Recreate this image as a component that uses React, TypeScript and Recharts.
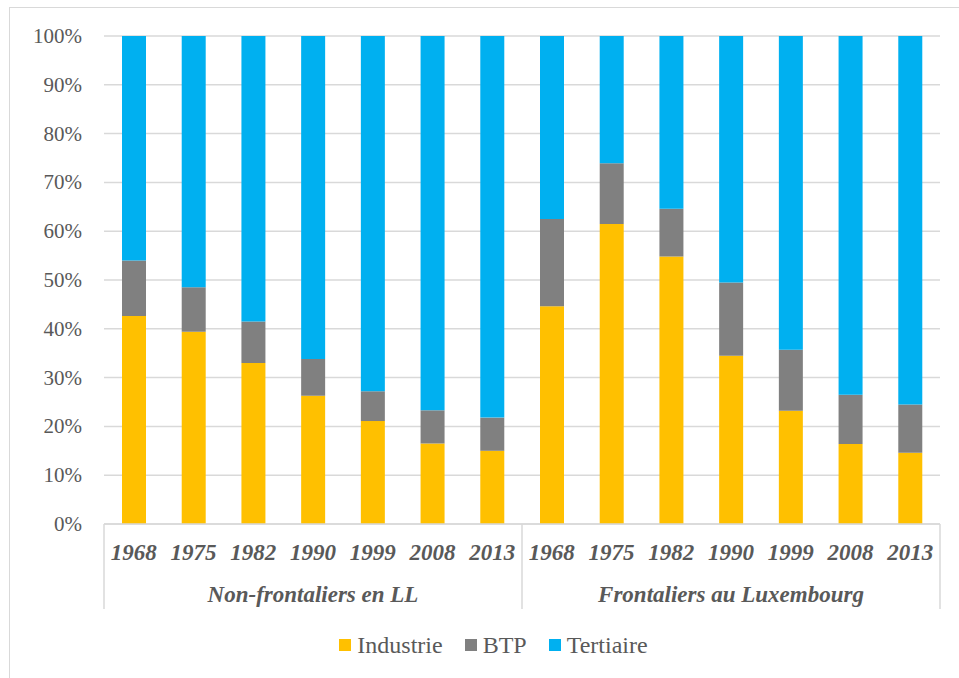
import { BarChart, Bar, XAxis, YAxis, CartesianGrid, Legend } from 'recharts';

const years = ['1968', '1975', '1982', '1990', '1999', '2008', '2013'];
const groups = ['Non-frontaliers en LL', 'Frontaliers au Luxembourg'];

// % par secteur
const industrieNonFront = [42.6, 39.4, 33.0, 26.3, 21.1, 16.5, 15.0];
const btpNonFront = [11.4, 9.1, 8.5, 7.5, 6.1, 6.8, 6.8];
const industrieFront = [44.6, 61.5, 54.8, 34.5, 23.2, 16.4, 14.6];
const btpFront = [17.9, 12.4, 9.8, 15.0, 12.5, 10.1, 9.9];

const yTicks = [0, 10, 20, 30, 40, 50, 60, 70, 80, 90, 100];

const series = [
    { key: 'industrie', name: 'Industrie', color: '#FFC000' },
    { key: 'btp', name: 'BTP', color: '#808080' },
    { key: 'tertiaire', name: 'Tertiaire', color: '#00B0F0' },
];

const build = (group: string, ind: number[], btp: number[]) =>
    years.map((year, i) => ({
        year,
        group,
        industrie: ind[i],
        btp: btp[i],
        tertiaire: +(100 - ind[i] - btp[i]).toFixed(1),
    }));

const data = [
    ...build(groups[0], industrieNonFront, btpNonFront),
    ...build(groups[1], industrieFront, btpFront),
];

const FONT = 'Liberation Serif, Times New Roman, serif';
const TEXT = '#595959';
const LINE = '#d9d9d9';

const YearTick = (props: any) => {
    const { x, y, payload } = props;
    return (
        <text x={x} y={y + 36} textAnchor="middle" fill={TEXT} fontFamily={FONT} fontSize={23} fontWeight="bold" fontStyle="italic">
            {payload.value}
        </text>
    );
};

const GroupTick = (props: any) => {
    const { x, y, payload, index, visibleTicksCount, width } = props;
    const half = payload.offset || width / 4;
    const last = index === visibleTicksCount - 1;
    return (
        <g>
            <line x1={x - half} x2={x - half} y1={y - 40} y2={y + 45} stroke={LINE} strokeWidth={1.5} />
            {last && <line x1={x + half} x2={x + half} y1={y - 40} y2={y + 45} stroke={LINE} strokeWidth={1.5} />}
            <text x={x} y={y + 38} textAnchor="middle" fill={TEXT} fontFamily={FONT} fontSize={23} fontWeight="bold" fontStyle="italic">
                {payload.value}
            </text>
        </g>
    );
};

const YTick = (props: any) => {
    const { x, y, payload } = props;
    return (
        <text x={x} y={y} dy={7} textAnchor="end" fill={TEXT} fontFamily={FONT} fontSize={21}>
            {payload.value}%
        </text>
    );
};

const LegendContent = () => (
    <div style={{ height: 60, paddingTop: 22, paddingLeft: 47, boxSizing: 'border-box', display: 'flex', justifyContent: 'center', gap: 22 }}>
        {series.map((s) => (
            <div key={s.key} style={{ display: 'flex', alignItems: 'center', height: 28 }}>
                <span style={{ width: 12, height: 12, background: s.color, display: 'inline-block', marginRight: 6 }} />
                <span style={{ fontFamily: FONT, fontSize: 24, color: TEXT, lineHeight: '28px' }}>{s.name}</span>
            </div>
        ))}
    </div>
);

export default function App() {
    return (
        <div style={{ position: 'absolute', left: 0, top: 0, width: 959, height: 678, background: '#fff', overflow: 'hidden' }}>
            <div style={{ position: 'absolute', left: 9, top: 7, width: 960, height: 680, borderTop: `1.5px solid ${LINE}`, borderLeft: `1.5px solid ${LINE}` }} />
            <div style={{ position: 'absolute', left: 0, top: 0 }}>
                <BarChart width={959} height={678} data={data} margin={{ top: 36, right: 19, left: 0, bottom: 9 }} barSize={24}>
                    <CartesianGrid vertical={false} stroke={LINE} strokeWidth={1.5} />
                    <XAxis
                        xAxisId={0}
                        dataKey="year"
                        height={40}
                        tickLine={false}
                        tickSize={0}
                        tickMargin={0}
                        axisLine={{ stroke: LINE, strokeWidth: 1.5 }}
                        tick={<YearTick />}
                        interval={0}
                    />
                    <XAxis
                        xAxisId={1}
                        dataKey="group"
                        allowDuplicatedCategory={false}
                        height={45}
                        tickLine={false}
                        tickSize={0}
                        tickMargin={0}
                        axisLine={false}
                        tick={<GroupTick />}
                        interval={0}
                    />
                    <YAxis
                        width={104}
                        domain={[0, 100]}
                        ticks={yTicks}
                        axisLine={false}
                        tickLine={false}
                        tickSize={0}
                        tickMargin={22}
                        tick={<YTick />}
                    />
                    <Legend verticalAlign="bottom" content={<LegendContent />} />
                    {series.map((s) => (
                        <Bar key={s.key} xAxisId={0} dataKey={s.key} name={s.name} stackId="a" fill={s.color} isAnimationActive={false} />
                    ))}
                </BarChart>
            </div>
        </div>
    );
}
